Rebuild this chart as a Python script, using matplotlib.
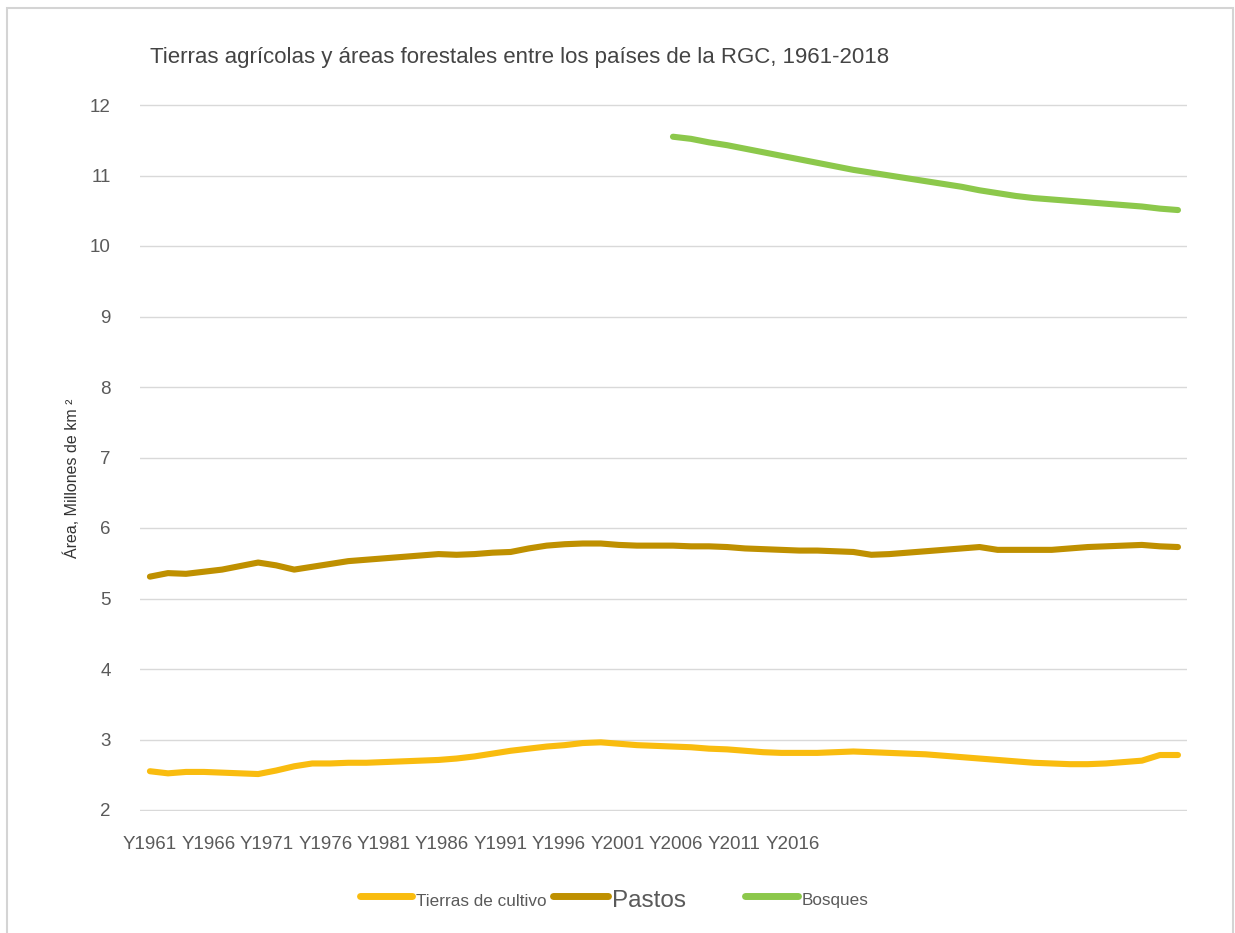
import numpy as np
import matplotlib.pyplot as plt
from matplotlib.lines import Line2D
from matplotlib.patches import Rectangle

plt.rcParams['font.family'] = ['Liberation Sans', 'DejaVu Sans']

years = list(range(1961, 2019))

# millones de km2
cultivo = [2.55, 2.52, 2.54, 2.54, 2.53, 2.52, 2.51, 2.56, 2.62, 2.66,
           2.66, 2.67, 2.67, 2.68, 2.69, 2.70, 2.71, 2.73, 2.76, 2.80,
           2.84, 2.87, 2.90, 2.92, 2.95, 2.96, 2.94, 2.92, 2.91, 2.90,
           2.89, 2.87, 2.86, 2.84, 2.82, 2.81, 2.81, 2.81, 2.82, 2.83,
           2.82, 2.81, 2.80, 2.79, 2.77, 2.75, 2.73, 2.71, 2.69, 2.67,
           2.66, 2.65, 2.65, 2.66, 2.68, 2.70, 2.78, 2.78]

pastos = [5.31, 5.36, 5.35, 5.38, 5.41, 5.46, 5.51, 5.47, 5.41, 5.45,
          5.49, 5.53, 5.55, 5.57, 5.59, 5.61, 5.63, 5.62, 5.63, 5.65,
          5.66, 5.71, 5.75, 5.77, 5.78, 5.78, 5.76, 5.75, 5.75, 5.75,
          5.74, 5.74, 5.73, 5.71, 5.70, 5.69, 5.68, 5.68, 5.67, 5.66,
          5.62, 5.63, 5.65, 5.67, 5.69, 5.71, 5.73, 5.69, 5.69, 5.69,
          5.69, 5.71, 5.73, 5.74, 5.75, 5.76, 5.74, 5.73]

# bosques solo desde 1990
bosques_start = 1990
bosques = [11.55, 11.52, 11.47, 11.43, 11.38, 11.33, 11.28, 11.23, 11.18, 11.13,
           11.08, 11.04, 11.00, 10.96, 10.92, 10.88, 10.84, 10.79, 10.75, 10.71,
           10.68, 10.66, 10.64, 10.62, 10.60, 10.58, 10.56, 10.53, 10.51]

tick_years = list(range(1961, 2017, 5))
tick_labels = ['Y%d' % y for y in tick_years]

c_cultivo = '#F9BC0F'
c_pastos = '#BF9000'
c_bosques = '#8CC84B'
grey_txt = '#5A5A5A'

W, H = 1235, 933
fig = plt.figure(figsize=(W / 100, H / 100), dpi=100)
# one extra pixel above and below so the 2 and 12 gridlines are not clipped
ax = fig.add_axes([140 / W, 1 - 811 / H, (1187 - 140) / W, (811 - 104) / H])

x = np.arange(len(years))
xb = np.arange(len(bosques)) + years.index(bosques_start)
ax.plot(x, cultivo, color=c_cultivo, lw=4.4, solid_capstyle='round', solid_joinstyle='round')
ax.plot(x, pastos, color=c_pastos, lw=4.4, solid_capstyle='round', solid_joinstyle='round')
ax.plot(xb, bosques, color=c_bosques, lw=4.4, solid_capstyle='round', solid_joinstyle='round')

px = 1 / 70.5
ax.set_xlim(-0.55, len(years) - 0.5)
ax.set_ylim(2 - px, 12 + px)
ax.set_yticks(range(2, 13))
# the category labels are packed tighter than the points
step = 58.45 / ((1178 - 150) / (len(years) - 1))
ax.set_xticks(np.arange(len(tick_labels)) * step)
ax.set_xticklabels(tick_labels)
ax.tick_params(axis='both', length=0, labelsize=13.5, labelcolor=grey_txt)
ax.tick_params(axis='y', pad=21)
ax.tick_params(axis='x', pad=18)
ax.grid(axis='y', color='#D9D9D9', lw=1)
ax.set_axisbelow(True)
for s in ax.spines.values():
    s.set_visible(False)

fig.text(150 / W, 1 - 58 / H, 'Tierras agrícolas y áreas forestales entre los países de la RGC, 1961-2018',
         fontsize=16, color='#444444', va='center', ha='left')
fig.text(72 / W, 1 - 478 / H, 'Área, Millones de km ²', fontsize=11.5, color='#333333',
         rotation=90, va='center', ha='center')

# outer frame
fig.patches.append(Rectangle((7 / W, -0.02), (1233 - 7) / W, 1 - 8 / H + 0.02,
                             transform=fig.transFigure, fill=False, ec='#D4D4D4', lw=1.5))

# legend drawn by hand
legend_items = [(360, 412, 'Tierras de cultivo', c_cultivo, 12.3),
                (553, 608, 'Pastos', c_pastos, 17.5),
                (745, 798, 'Bosques', c_bosques, 12.3)]
for x0, x1, label, col, fs in legend_items:
    fig.add_artist(Line2D([x0 / W, x1 / W], [1 - 896 / H] * 2, transform=fig.transFigure,
                          color=col, lw=5, solid_capstyle='round'))
    fig.text((x1 + 4) / W, 1 - 901 / H, label, fontsize=fs, color=grey_txt, va='center', ha='left')

fig.savefig('out.png', dpi=100, facecolor='white')
